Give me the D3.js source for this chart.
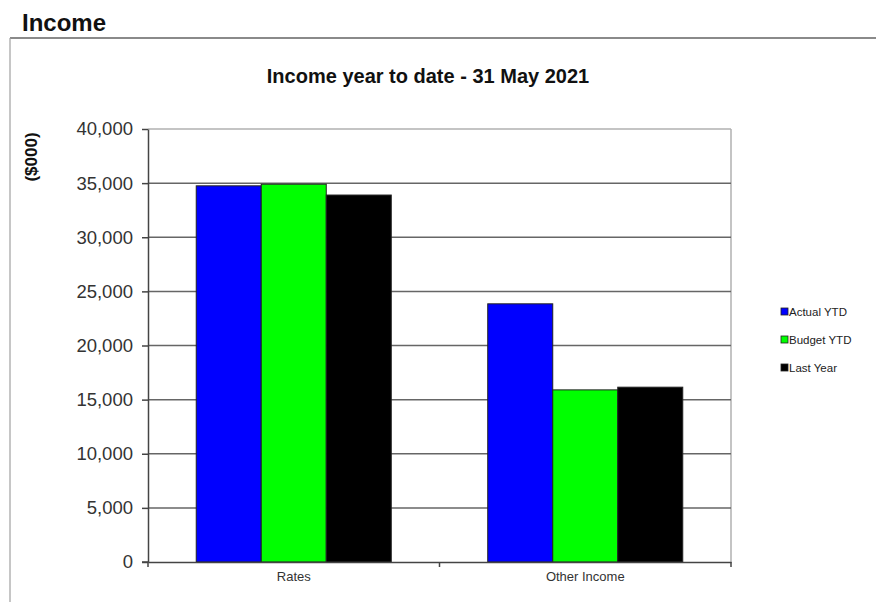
<!DOCTYPE html>
<html><head><meta charset="utf-8">
<script src="https://cdn.jsdelivr.net/npm/d3@7"></script>
<style>body{margin:0;background:#fff;}svg{display:block;font-family:Arial,"Liberation Sans",sans-serif;}</style>
</head><body>
<svg id="c" width="876" height="602"></svg>
<script>
const categories = ["Rates", "Other Income"];
const seriesNames = ["Actual YTD", "Budget YTD", "Last Year"];
const seriesColors = ["#0000ff", "#00ff00", "#000000"];
const actualYTD = [34750, 23850];
const budgetYTD = [34900, 15900];
const lastYear = [33900, 16150];
const yTicks = [0, 5000, 10000, 15000, 20000, 25000, 30000, 35000, 40000];

const seriesValues = [actualYTD, budgetYTD, lastYear];
const svg = d3.select("#c");
const L = 148, R = 731, T = 129, B = 562;

// page frame
svg.append("line").attr("x1", 10).attr("x2", 876).attr("y1", 38).attr("y2", 38).attr("stroke", "#8a8a8a").attr("stroke-width", 2);
svg.append("line").attr("x1", 10).attr("x2", 10).attr("y1", 38).attr("y2", 602).attr("stroke", "#a0a0a0").attr("stroke-width", 1.2);
svg.append("text").attr("x", 22).attr("y", 31).attr("font-size", 24).attr("font-weight", "bold").attr("fill", "#111").text("Income");

svg.append("text").attr("x", 428).attr("y", 83).attr("text-anchor", "middle").attr("font-size", 20).attr("font-weight", "bold").attr("fill", "#111").text("Income year to date - 31 May 2021");

const y = d3.scaleLinear().domain([0, 40000]).range([B, T]);
const x0 = d3.scaleBand().domain(categories).range([L, R]).padding(0);
const x1 = d3.scaleBand().domain(seriesNames).range([0, x0.bandwidth()]).paddingInner(0).paddingOuter(0.742);

// plot border
svg.append("line").attr("x1", L).attr("x2", R).attr("y1", T).attr("y2", T).attr("stroke", "#b0b0b0").attr("stroke-width", 1.5);
svg.append("line").attr("x1", R).attr("x2", R).attr("y1", T).attr("y2", B).attr("stroke", "#b0b0b0").attr("stroke-width", 1.5);

// gridlines
svg.append("g").selectAll("line").data(yTicks.filter(d => d > 0 && d < 40000)).join("line")
  .attr("x1", L).attr("x2", R).attr("y1", d => y(d)).attr("y2", d => y(d))
  .attr("stroke", "#666").attr("stroke-width", 1.5);

// bars
const rows = [];
categories.forEach((c, i) => seriesNames.forEach((s, j) => rows.push({c, s, v: seriesValues[j][i], col: seriesColors[j]})));
svg.append("g").selectAll("rect").data(rows).join("rect")
  .attr("x", d => x0(d.c) + x1(d.s)).attr("width", x1.bandwidth())
  .attr("y", d => y(d.v)).attr("height", d => B - y(d.v))
  .attr("fill", d => d.col).attr("stroke", "#222").attr("stroke-width", 1);

// y axis
const ya = svg.append("g").attr("transform", `translate(${L},0)`)
  .call(d3.axisLeft(y).tickValues(yTicks).tickFormat(d3.format(",")).tickSize(6).tickSizeOuter(0).tickPadding(9));
ya.select(".domain").attr("stroke", "#444").attr("stroke-width", 1.5);
ya.selectAll(".tick line").attr("stroke", "#444").attr("stroke-width", 1.5);
ya.selectAll("text").attr("font-size", 18.5).attr("fill", "#333").attr("font-family", "Arial, 'Liberation Sans', sans-serif");

// x axis
const xa = svg.append("g").attr("transform", `translate(0,${B})`)
  .call(d3.axisBottom(x0).tickSize(0).tickPadding(10));
xa.select(".domain").attr("stroke", "#444").attr("stroke-width", 1.5);
xa.selectAll("text").attr("font-size", 13).attr("fill", "#333").attr("font-family", "Arial, 'Liberation Sans', sans-serif");
// category separator ticks
svg.append("g").selectAll("line").data([L, x0("Other Income"), R]).join("line")
  .attr("x1", d => d).attr("x2", d => d).attr("y1", B).attr("y2", B + 5)
  .attr("stroke", "#444").attr("stroke-width", 1.5);
svg.append("line").attr("x1", L - 6).attr("x2", L).attr("y1", B).attr("y2", B).attr("stroke", "#444").attr("stroke-width", 1.5);

// y title
svg.append("text").attr("transform", "translate(37,157) rotate(-90)").attr("text-anchor", "middle")
  .attr("font-size", 17).attr("font-weight", "bold").attr("fill", "#111").text("($000)");

// legend
const lg = svg.append("g").selectAll("g").data(seriesNames).join("g")
  .attr("transform", (d, i) => `translate(781,${312 + i * 28})`);
lg.append("rect").attr("x", 0).attr("y", -4).attr("width", 7).attr("height", 7)
  .attr("fill", (d, i) => seriesColors[i]).attr("stroke", "#222").attr("stroke-width", 0.8);
lg.append("text").attr("x", 8).attr("y", 4).attr("font-size", 11.5).attr("fill", "#222").text(d => d);
</script>
</body></html>
